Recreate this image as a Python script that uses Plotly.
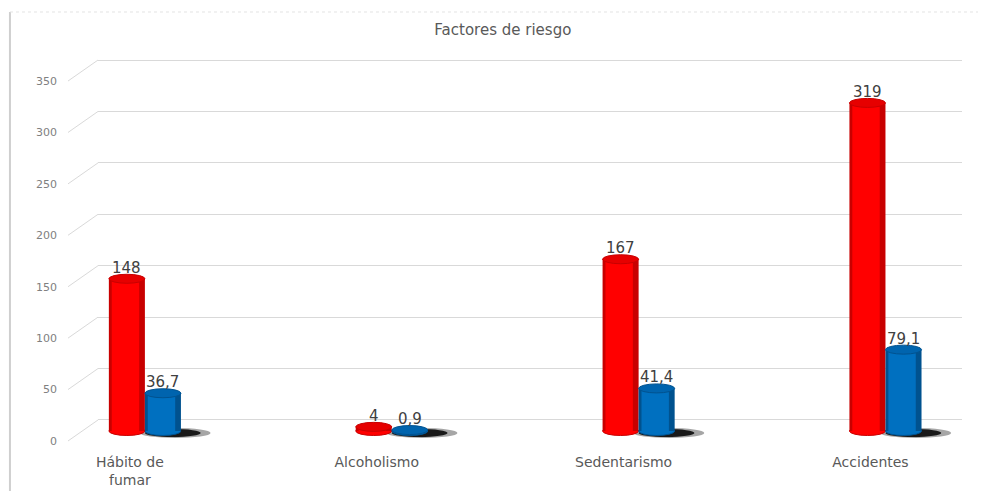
import plotly.graph_objects as go

# ---------------- data ----------------
categories = ["Hábito de fumar", "Alcoholismo", "Sedentarismo", "Accidentes"]
tick_labels = ["Hábito de<br>fumar", "Alcoholismo", "Sedentarismo", "Accidentes"]
red_values = [148, 4, 167, 319]
blue_values = [36.7, 0.9, 41.4, 79.1]
y_ticks = [0, 50, 100, 150, 200, 250, 300, 350]
chart_title = "Factores de riesgo"

# ---------------- style ----------------
W = 0.146      # bar width (x units)
DEPTH = 10.7   # pseudo-3D depth shift (value units)
GRID = "#D9D9D9"
FONT = "DejaVu Sans, Verdana, sans-serif"

x = list(range(len(categories)))


def fmt(v):
    return f"{v:g}".replace(".", ",")


series = [
    dict(vals=red_values, off=-W, edge="#C80000", core="#FF0000", top="#E60000"),
    dict(vals=blue_values, off=0.0, edge="#00528F", core="#0070C0", top="#0064AE"),
]

fig = go.Figure()
shapes = []
annotations = []

# shadows (behind bars)
for i, xi in enumerate(x):
    shapes.append(dict(type="circle", xref="x", yref="y", ysizemode="pixel",
                       yanchor=-DEPTH, y0=-7, y1=3,
                       x0=xi - 0.02, x1=xi + W + 0.12,
                       fillcolor="rgba(0,0,0,0.35)", line=dict(width=0), layer="between"))
    shapes.append(dict(type="circle", xref="x", yref="y", ysizemode="pixel",
                       yanchor=-DEPTH, y0=-6, y1=2,
                       x0=xi, x1=xi + W + 0.08,
                       fillcolor="rgba(0,0,0,0.85)", line=dict(width=0), layer="between"))

for s in series:
    vals = s["vals"]
    base = [-DEPTH] * len(vals)
    # outer (darker edges)
    fig.add_bar(x=x, y=vals, base=base, width=W, offset=s["off"],
                marker=dict(color=s["edge"], line=dict(width=0)),
                hoverinfo="skip", showlegend=False)
    # bright core
    fig.add_bar(x=x, y=vals, base=base, width=W * 0.76, offset=s["off"] + W * 0.08,
                marker=dict(color=s["core"], line=dict(width=0)),
                hoverinfo="skip", showlegend=False)
    for xi, v in zip(x, vals):
        x0 = xi + s["off"]
        x1 = x0 + W
        # bottom ellipse
        shapes.append(dict(type="circle", xref="x", yref="y", ysizemode="pixel",
                           yanchor=-DEPTH, y0=-4.5, y1=4.5, x0=x0, x1=x1,
                           fillcolor=s["core"], line=dict(color=s["edge"], width=1),
                           layer="between"))
        # top ellipse
        shapes.append(dict(type="circle", xref="x", yref="y", ysizemode="pixel",
                           yanchor=v - DEPTH, y0=-4.5, y1=4.5, x0=x0, x1=x1,
                           fillcolor=s["top"], line=dict(color=s["edge"], width=1),
                           layer="above"))
        annotations.append(dict(x=(x0 + x1) / 2, y=v - DEPTH, xref="x", yref="y",
                                text=fmt(v), showarrow=False, yanchor="bottom",
                                yshift=0, font=dict(family=FONT, size=15, color="#404040")))

# slanted floor/side segments of gridlines
for t in y_ticks:
    shapes.append(dict(type="line", xref="paper", xsizemode="pixel", xanchor=0,
                       x0=-30, x1=0, yref="y", ysizemode="pixel", yanchor=t,
                       y0=-21, y1=0, line=dict(color=GRID, width=1), layer="below"))

# outer frame (screenshot edge)
shapes.append(dict(type="line", xref="paper", yref="paper",
                   x0=-0.1019, x1=-0.1019, y0=1.11, y1=-0.13,
                   line=dict(color="#CFCFCF", width=2)))
shapes.append(dict(type="line", xref="paper", yref="paper",
                   x0=-0.1019, x1=1.05, y0=1.11, y1=1.11,
                   line=dict(color="#E3E3E3", width=1, dash="dot")))

fig.update_layout(
    width=978, height=483,
    margin=dict(l=90, r=24, t=47, b=45, autoexpand=False),
    paper_bgcolor="white", plot_bgcolor="white",
    barmode="overlay",
    title=dict(text=chart_title, x=0.506, xanchor="center", y=0.955, yanchor="middle",
               font=dict(family=FONT, size=15, color="#595959")),
    font=dict(family=FONT),
    shapes=shapes,
    annotations=annotations,
    xaxis=dict(range=[-0.19, 3.31], tickvals=x, ticktext=tick_labels,
               showgrid=False, zeroline=False, showline=False, ticks="",
               automargin=False,
               ticklabelshift=-15, ticklabelstandoff=6,
               tickfont=dict(family=FONT, size=14, color="#595959")),
    yaxis=dict(range=[-25.3, 354.9], tickvals=y_ticks, showgrid=True, gridcolor=GRID,
               zeroline=False, showline=False, ticks="", automargin=False,
               ticklabelshift=21, ticklabelstandoff=40,
               tickfont=dict(family=FONT, size=11, color="#808080")),
)

fig.write_html("out.html")
